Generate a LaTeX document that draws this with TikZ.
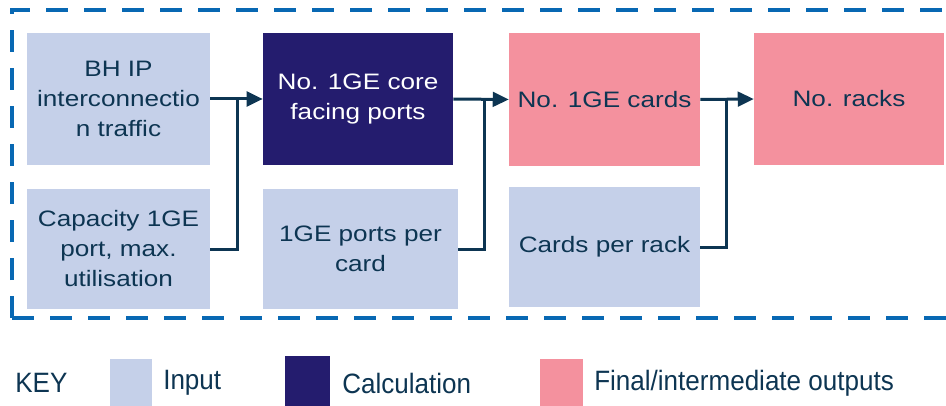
\documentclass[tikz,border=0pt]{standalone}
\usepackage{fontspec}
\setmainfont{Liberation Sans}
\newfontfamily\boxfont[FakeStretch=1.17]{Liberation Sans}
\newfontfamily\keyfont[FakeStretch=0.93]{Liberation Sans}
\usepackage{tikz}
\usetikzlibrary{arrows.meta}
\definecolor{inputblue}{HTML}{C5D0E9}
\definecolor{calcnavy}{HTML}{241C6E}
\definecolor{outpink}{HTML}{F4919E}
\definecolor{framebl}{HTML}{0868B3}
\definecolor{inkdark}{HTML}{0D3552}

\begin{document}
\begin{tikzpicture}[x=0.75pt, y=-0.75pt,
    box/.style={rectangle, inner sep=0pt, align=center, text=inkdark,
      font=\boxfont\fontsize{16.75}{22.5}\selectfont},
    inputbox/.style={box, fill=inputblue},
    calcbox/.style={box, fill=calcnavy, text=white},
    outbox/.style={box, fill=outpink},
    link/.style={draw=inkdark, line width=2.25pt},
    feed/.style={link, -{Triangle[length=12pt, width=11pt]}},
    keytext/.style={anchor=west, text=inkdark, inner sep=0pt,
      font=\keyfont\fontsize{21}{24}\selectfont}]
      \useasboundingbox (0,0) rectangle (946,406);
      \clip (0,0) rectangle (946,406);

      % Dashed frame round the model (runs off the right edge)
      \draw[framebl, line width=3pt, dash pattern=on 16.5pt off 12pt]
        (12,318) -- (12,10) -- (960,10) (12,318) -- (960,318);

      % Top row: first input, calculation and the two outputs
      \node[inputbox, minimum width=137.25pt, minimum height=99pt] (BH) at (118.5,99)
        {BH IP\\interconnectio\\n traffic};
      \node[calcbox, minimum width=142.5pt, minimum height=99pt] (Core) at (358,99)
        {No. 1GE core\\facing ports};
      \node[outbox, minimum width=143.25pt, minimum height=99.75pt] (Cards) at (604.5,99.5)
        {No. 1GE cards};
      \node[outbox, minimum width=142.5pt, minimum height=99pt] (Racks) at (849,99)
        {No. racks};

      % Bottom row: the other inputs
      \node[inputbox, minimum width=137.25pt, minimum height=90pt] (Cap) at (118.5,249)
        {Capacity 1GE\\port, max.\\utilisation};
      \node[inputbox, minimum width=146.25pt, minimum height=90pt] (PerCard) at (360.5,249)
        {1GE ports per\\card};
      \node[inputbox, minimum width=143.25pt, minimum height=90pt] (PerRack) at (604.5,247)
        {Cards per rack};

      % Junction points where the lower input joins the arrow
      \coordinate (J1) at (237,99);
      \coordinate (J2) at (484,99);
      \coordinate (J3) at (726,99);

      % Connectors
      \draw[feed] (BH.east) -- (Core.west);
      \draw[link] (Cap.east) -| (J1);
      \draw[feed] (Core.east) -- (Cards.west);
      \draw[link] (PerCard.east) -| (J2);
      \draw[feed] (Cards.east) -- (Racks.west);
      \draw[link] (PerRack.east) -| (J3);

      % Key
      \node[keytext] (Key) at (15,383) {KEY};
      \node[inputbox, minimum width=31.5pt, minimum height=35.25pt] (KeyIn) at (131,382.5) {};
      \node[keytext] (KeyInT) at (163,383) {Input};
      \node[calcbox, minimum width=33.75pt, minimum height=37.5pt] (KeyCalc) at (307.5,381) {};
      \node[keytext] (KeyCalcT) at (342,383) {Calculation};
      \node[outbox, minimum width=32.25pt, minimum height=35.25pt] (KeyOut) at (561.5,382.5) {};
      \node[keytext] (KeyOutT) at (594,383) {Final/intermediate outputs};
    \end{tikzpicture}
\end{document}
